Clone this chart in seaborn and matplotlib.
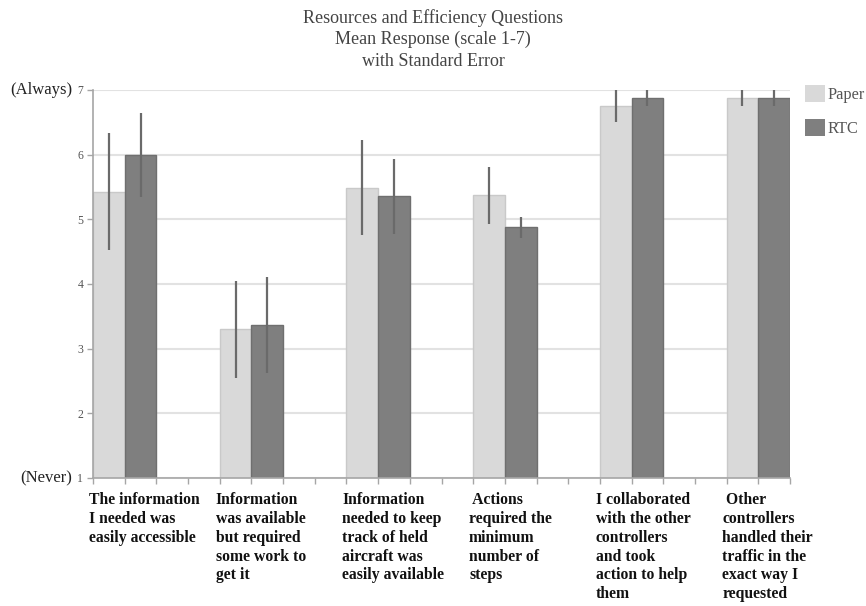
import matplotlib
matplotlib.use("Agg")
import matplotlib.pyplot as plt
from matplotlib.patches import Patch
from matplotlib.transforms import blended_transform_factory
import numpy as np
import pandas as pd
import seaborn as sns

# Survey questions (short keys) and their wrapped axis labels
questions = ["Q1", "Q2", "Q3", "Q4", "Q5", "Q6"]
question_labels = [
    "The information\nI needed was\neasily accessible",
    "Information\nwas available\nbut required\nsome work to\nget it",
    "Information\nneeded to keep\ntrack of held\naircraft was\neasily available",
    " Actions\nrequired the\nminimum\nnumber of\nsteps",
    "I collaborated\nwith the other\ncontrollers\nand took\naction to help\nthem",
    " Other\ncontrollers\nhandled their\ntraffic in the\nexact way I\nrequested",
]

# Mean responses (scale 1-7) and standard errors per condition
paper_mean = [5.43, 3.30, 5.49, 5.375, 6.75, 6.875]
paper_se = [0.90, 0.75, 0.73, 0.44, 0.25, 0.125]
rtc_mean = [6.00, 3.37, 5.36, 4.875, 6.875, 6.875]
rtc_se = [0.65, 0.74, 0.58, 0.16, 0.125, 0.125]

conditions = ["Paper", "RTC"]
colors = {"Paper": "#d9d9d9", "RTC": "#7f7f7f"}
edges = {"Paper": "#c9c9c9", "RTC": "#6f6f6f"}

df = pd.DataFrame({
    "question": questions * 2,
    "cond": ["Paper"] * len(questions) + ["RTC"] * len(questions),
    "mean": paper_mean + rtc_mean,
    "se": paper_se + rtc_se,
})

serif = ["Liberation Serif", "DejaVu Serif"]

sns.set_theme(style="white")
plt.rcParams["font.family"] = serif

fig = plt.figure(figsize=(8.66, 6.06), dpi=100)
ax = fig.add_axes([93 / 866, 128 / 606, 697 / 866, 388 / 606])

sns.barplot(
    data=df, x="question", y="mean", hue="cond",
    order=questions, hue_order=conditions, palette=colors,
    width=0.5, errorbar=None, saturation=1, legend=False,
    linewidth=1, ax=ax, zorder=2,
)

# Per-condition bar edges and standard error lines
for cond, container in zip(conditions, ax.containers):
    sub = df[df["cond"] == cond].set_index("question").loc[questions]
    xs = []
    for patch in container:
        patch.set_edgecolor(edges[cond])
        xs.append(patch.get_x() + patch.get_width() / 2)
    ax.errorbar(xs, sub["mean"].values, yerr=sub["se"].values,
                fmt="none", ecolor="#6a6a6a", elinewidth=1.6,
                capsize=0, zorder=3)

ax.set_ylim(1, 7)
ax.set_xlim(-0.25, 5.25)
ax.set_yticks(range(1, 8))
ax.set_yticklabels([str(v) for v in range(1, 8)], fontsize=8.5, color="#555555")
ax.set_xticks(np.arange(-0.25, 5.26, 0.25))
ax.set_xticklabels([])
ax.set_xlabel("")
ax.set_ylabel("")

ax.grid(axis="y", color="#e2e2e2", linewidth=1.5, zorder=0)
ax.set_axisbelow(True)
for side in ("top", "right"):
    ax.spines[side].set_visible(False)
for side in ("left", "bottom"):
    ax.spines[side].set_color("#a6a6a6")
    ax.spines[side].set_linewidth(1.2)
ax.tick_params(axis="both", which="major", direction="out", length=4,
               width=1, color="#a6a6a6", left=True, bottom=True, pad=3)

# End-point descriptors on the y axis
for val, word in ((7, "(Always)"), (1, "(Never)")):
    ax.annotate(word, xy=(0, val), xycoords=("axes fraction", "data"),
                xytext=(-15, 0), textcoords="offset points",
                ha="right", va="center", fontsize=12, color="#222222")

# Category labels, left-aligned under each pair of bars
trans = blended_transform_factory(ax.transData, ax.transAxes)
for i, label in enumerate(question_labels):
    ax.annotate(label, xy=(i - 0.25, 0), xycoords=trans,
                xytext=(-3, -10), textcoords="offset points",
                ha="left", va="top", fontsize=11.3, fontweight="bold",
                color="#111111", linespacing=1.24)

fig.text(0.5, 1 - 9 / 606,
         "Resources and Efficiency Questions\nMean Response (scale 1-7)\nwith Standard Error",
         ha="center", va="top", fontsize=13, color="#444444", linespacing=1.32)

handles = [Patch(facecolor=colors[c], edgecolor="none") for c in conditions]
fig.legend(handles, conditions, loc="upper left",
           bbox_to_anchor=(805 / 866, 1 - 85 / 606), frameon=False,
           fontsize=11.8, handlelength=1.25, handleheight=1.25,
           handletextpad=0.1, labelspacing=0.95, borderpad=0,
           borderaxespad=0, labelcolor="#555555")

fig.savefig("out.png", dpi=100)
